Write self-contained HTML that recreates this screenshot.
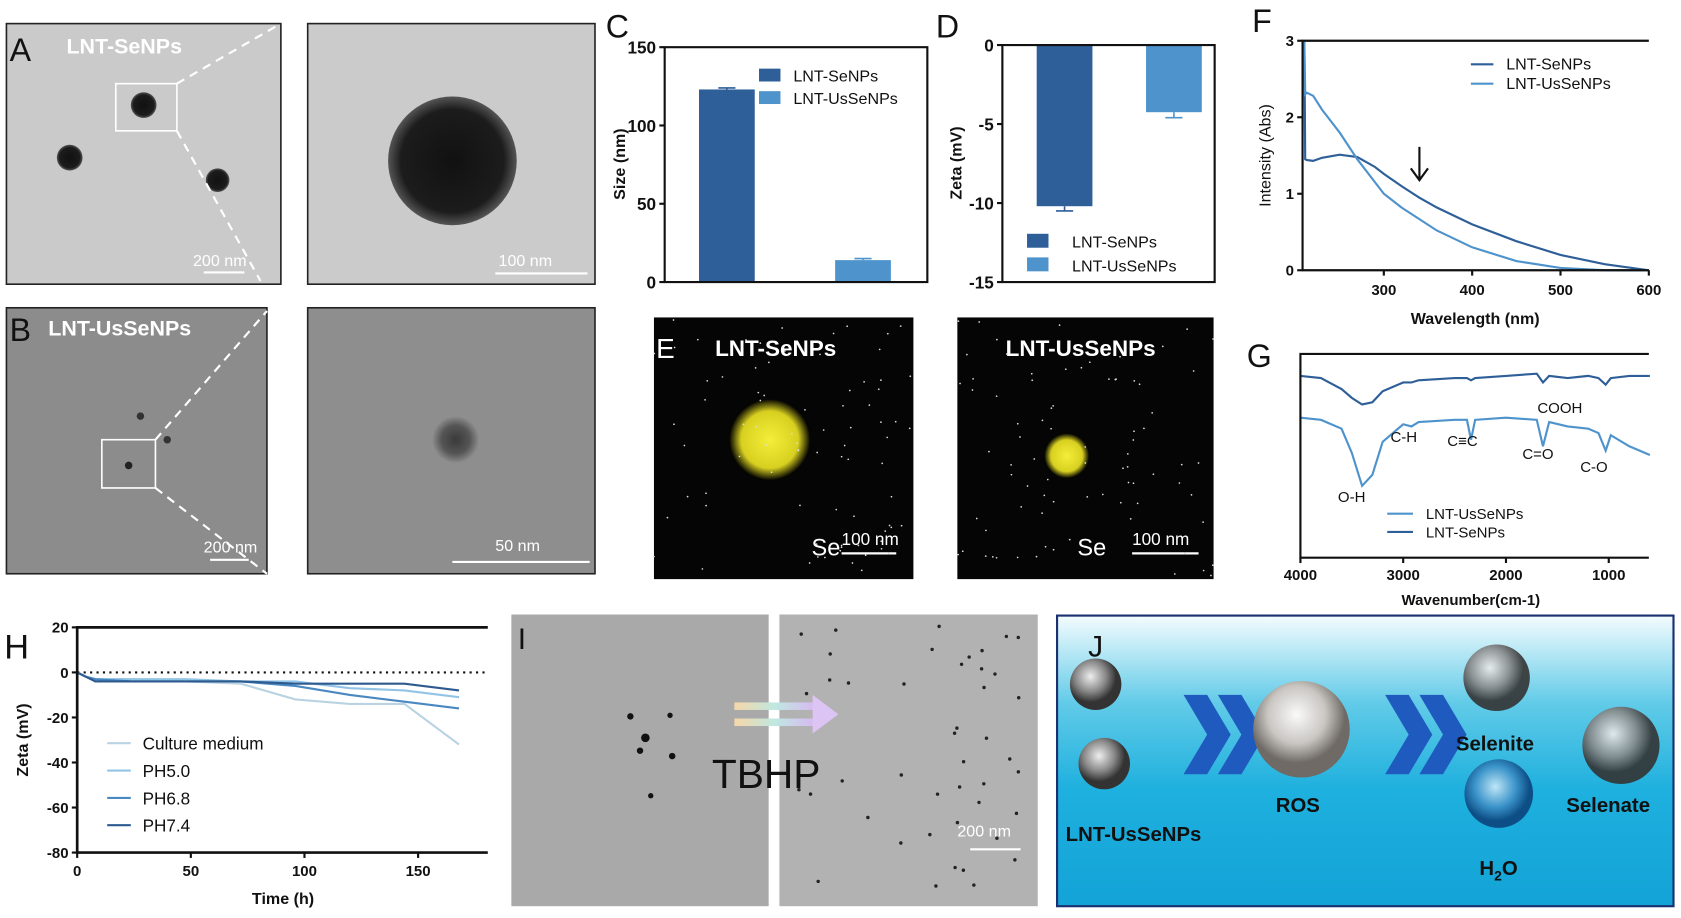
<!DOCTYPE html>
<html><head><meta charset="utf-8"><style>
html,body{margin:0;padding:0;background:#fff;}
svg{display:block;font-family:"Liberation Sans",Arial,sans-serif;}
</style></head><body>
<svg id="fig" width="1681" height="918" viewBox="0 0 1568 856" preserveAspectRatio="none" xmlns="http://www.w3.org/2000/svg">
<defs>
<radialGradient id="dotg"><stop offset="0" stop-color="#111"/><stop offset="0.8" stop-color="#1c1c1c"/><stop offset="1" stop-color="#555"/></radialGradient>
<radialGradient id="blob"><stop offset="0" stop-color="#3a3a3a"/><stop offset="0.6" stop-color="#555"/><stop offset="1" stop-color="#8e8e8e"/></radialGradient>
<radialGradient id="yel"><stop offset="0" stop-color="#f4ef3a"/><stop offset="0.7" stop-color="#d8d020"/><stop offset="1" stop-color="#000"/></radialGradient>
<linearGradient id="jbg" x1="0" y1="0" x2="0" y2="1"><stop offset="0" stop-color="#f4fcfe"/><stop offset="0.3" stop-color="#62cbe8"/><stop offset="0.6" stop-color="#1eb0de"/><stop offset="1" stop-color="#13a3d7"/></linearGradient>
<radialGradient id="silver" cx="0.4" cy="0.35"><stop offset="0" stop-color="#eee"/><stop offset="0.6" stop-color="#888"/><stop offset="1" stop-color="#333"/></radialGradient>
<radialGradient id="glass" cx="0.45" cy="0.35"><stop offset="0" stop-color="#fafafa"/><stop offset="0.6" stop-color="#c9c6c2"/><stop offset="1" stop-color="#6f6a66"/></radialGradient>
<radialGradient id="water" cx="0.45" cy="0.4"><stop offset="0" stop-color="#bfe6f7"/><stop offset="0.6" stop-color="#3a93c9"/><stop offset="1" stop-color="#0d4e86"/></radialGradient>
<linearGradient id="rainbow" x1="0" y1="0" x2="1" y2="0"><stop offset="0" stop-color="#f6d7a8"/><stop offset="0.5" stop-color="#bfe8e0"/><stop offset="1" stop-color="#d7b9f2"/></linearGradient>
</defs>

<g>
<rect x="6" y="22" width="256" height="243" fill="#cacaca" stroke="#222" stroke-width="1.5"/>
<circle cx="65" cy="147" r="12" fill="url(#dotg)"/>
<circle cx="134" cy="98" r="12" fill="url(#dotg)"/>
<circle cx="203" cy="168" r="11" fill="url(#dotg)"/>
<rect x="108" y="78" width="57" height="44" fill="none" stroke="#fff" stroke-width="1.5"/>
<line x1="165" y1="78" x2="262" y2="22" stroke="#fff" stroke-width="2" stroke-dasharray="8,6"/>
<line x1="165" y1="122" x2="243" y2="262" stroke="#fff" stroke-width="2" stroke-dasharray="8,6"/>
<text x="9" y="57" font-size="30" fill="#111">A</text>
<text x="62" y="50" font-size="20" font-weight="bold" fill="#fff">LNT-SeNPs</text>
<text x="180" y="248" font-size="15" fill="#fff">200 nm</text>
<line x1="190" y1="254" x2="228" y2="254" stroke="#fff" stroke-width="2"/>
</g>
<g>
<rect x="287" y="22" width="268" height="243" fill="#cbcbcb" stroke="#222" stroke-width="1.5"/>
<circle cx="422" cy="150" r="60" fill="url(#dotg)"/>
<text x="465" y="248" font-size="15" fill="#fff">100 nm</text>
<line x1="462" y1="255" x2="548" y2="255" stroke="#fff" stroke-width="2"/>
</g>

<g>
<rect x="6" y="287" width="243" height="248" fill="#8c8c8c" stroke="#222" stroke-width="1.5"/>
<circle cx="120" cy="434" r="3.5" fill="#222"/>
<circle cx="131" cy="388" r="3.5" fill="#333"/>
<circle cx="156" cy="410" r="3.5" fill="#333"/>
<rect x="95" y="410" width="50" height="45" fill="none" stroke="#fff" stroke-width="1.5"/>
<line x1="145" y1="410" x2="249" y2="290" stroke="#fff" stroke-width="2" stroke-dasharray="8,6"/>
<line x1="145" y1="455" x2="249" y2="535" stroke="#fff" stroke-width="2" stroke-dasharray="8,6"/>
<text x="9" y="318" font-size="30" fill="#111">B</text>
<text x="45" y="313" font-size="20" font-weight="bold" fill="#fff">LNT-UsSeNPs</text>
<text x="190" y="515" font-size="15" fill="#fff">200 nm</text>
<line x1="196" y1="522" x2="232" y2="522" stroke="#fff" stroke-width="2"/>
</g>
<g>
<rect x="287" y="287" width="268" height="248" fill="#8e8e8e" stroke="#222" stroke-width="1.5"/>
<circle cx="425" cy="410" r="22" fill="url(#blob)"/>
<text x="462" y="514" font-size="15" fill="#fff">50 nm</text>
<line x1="422" y1="524" x2="550" y2="524" stroke="#fff" stroke-width="2"/>
</g>

<g>
<rect x="610" y="296" width="242" height="244" fill="#050505"/>
<rect x="893" y="296" width="239" height="244" fill="#050505"/>
<circle cx="718" cy="410" r="38" fill="url(#yel)"/>
<circle cx="995" cy="425" r="21" fill="url(#yel)"/>
<text x="612" y="334" font-size="26" fill="#fff">E</text>
<text x="667" y="332" font-size="21" font-weight="bold" fill="#fff">LNT-SeNPs</text>
<text x="938" y="332" font-size="21" font-weight="bold" fill="#fff">LNT-UsSeNPs</text>
<text x="757" y="518" font-size="22" fill="#fff">Se</text>
<text x="785" y="508" font-size="16" fill="#fff">100 nm</text>
<line x1="785" y1="516" x2="836" y2="516" stroke="#fff" stroke-width="2"/>
<text x="1005" y="518" font-size="22" fill="#fff">Se</text>
<text x="1056" y="508" font-size="16" fill="#fff">100 nm</text>
<line x1="1056" y1="516" x2="1118" y2="516" stroke="#fff" stroke-width="2"/>
<g id="stars"></g>
</g>

<g>
<rect x="477" y="573" width="240" height="272" fill="#a9a9a9"/>
<rect x="727" y="573" width="241" height="272" fill="#b2b2b2"/>
<g id="idots"></g>
<text x="483" y="605" font-size="28" fill="#111">I</text>
<rect x="685" y="655" width="75" height="7" fill="url(#rainbow)"/>
<rect x="685" y="670" width="75" height="7" fill="url(#rainbow)"/>
<polygon points="758,648 782,666 758,684" fill="#dcc4f4"/>
<text x="664" y="735" font-size="38" fill="#111">TBHP</text>
<text x="893" y="780" font-size="15" fill="#fff">200 nm</text>
<line x1="905" y1="792" x2="952" y2="792" stroke="#fff" stroke-width="2"/>
</g>

<g>
<rect x="986" y="574" width="575" height="271" fill="url(#jbg)" stroke="#1a3070" stroke-width="2"/>
<text x="1015" y="612" font-size="28" fill="#111">J</text>
<circle cx="1022" cy="638" r="24" fill="url(#silver)"/>
<circle cx="1030" cy="712" r="24" fill="url(#silver)"/>
<polygon points="1104,648 1126,648 1148,685 1126,722 1104,722 1126,685" fill="#1f5bbf"/>
<polygon points="1136,648 1158,648 1180,685 1158,722 1136,722 1158,685" fill="#1f5bbf"/>
<circle cx="1214" cy="680" r="45" fill="url(#glass)"/>
<polygon points="1292,648 1314,648 1336,685 1314,722 1292,722 1314,685" fill="#1f5bbf"/>
<polygon points="1324,648 1346,648 1368,685 1346,722 1324,722 1346,685" fill="#1f5bbf"/>
<circle cx="1396" cy="632" r="31" fill="url(#silver)" opacity="0.9"/>
<circle cx="1398" cy="740" r="32" fill="url(#water)"/>
<circle cx="1512" cy="695" r="36" fill="url(#silver)" opacity="0.9"/>
<text x="994" y="784" font-size="19" font-weight="bold" fill="#111">LNT-UsSeNPs</text>
<text x="1190" y="757" font-size="19" font-weight="bold" fill="#111">ROS</text>
<text x="1358" y="700" font-size="19" font-weight="bold" fill="#111">Selenite</text>
<text x="1461" y="757" font-size="19" font-weight="bold" fill="#111">Selenate</text>
<text x="1380" y="816" font-size="19" font-weight="bold" fill="#111">H<tspan font-size="13" dy="5">2</tspan><tspan dy="-5">O</tspan></text>
</g>

<g id="charts"></g>
</svg>
<script>
const cCats = ['LNT-SeNPs', 'LNT-UsSeNPs'];
const cVals = [123, 14];
const cErr = [1, 1];
const cTicks = [0, 50, 100, 150];
const dCats = ['LNT-SeNPs', 'LNT-UsSeNPs'];
const dVals = [-10.2, -4.25];
const dErr = [0.3, 0.35];
const dTicks = [0, -5, -10, -15];
const fWave = [210, 211, 213, 220, 230, 250, 270, 290, 300, 320, 340, 360, 400, 450, 500, 550, 600];
const fSe = [3.0, 1.45, 1.44, 1.43, 1.47, 1.51, 1.48, 1.35, 1.26, 1.1, 0.95, 0.82, 0.6, 0.38, 0.2, 0.08, 0.0];
const fUs = [3.0, 2.3, 2.32, 2.28, 2.1, 1.8, 1.45, 1.15, 1.0, 0.82, 0.67, 0.52, 0.3, 0.12, 0.03, 0.0, 0.0];
const fXTicks = [300, 400, 500, 600];
const fYTicks = [0, 1, 2, 3];
const gWn = [4000, 3800, 3600, 3500, 3400, 3300, 3200, 3000, 2920, 2850, 2500, 2380, 2340, 2300, 2000, 1700, 1640, 1580, 1400, 1200, 1100, 1030, 980, 800, 600];
const gSe = [90, 89, 84, 80, 77, 78, 83, 87, 87, 88, 89, 89, 88, 89, 90, 91, 87, 90, 89, 90, 89, 86, 89, 90, 90];
const gUs = [71, 70, 66, 55, 40, 45, 60, 68, 67, 69, 70, 70, 61, 70, 71, 70, 58, 69, 67, 66, 64, 56, 63, 58, 54];
const gXTicks = [4000, 3000, 2000, 1000];
const hTime = [0, 4, 8, 24, 48, 72, 96, 120, 144, 168];
const hCulture = [0, -2, -3, -3, -4, -5, -12, -14, -14, -32];
const hPH50 = [0, -2, -3, -3, -3, -4, -4, -7, -8, -11];
const hPH68 = [0, -2, -3, -4, -4, -4, -6, -10, -13, -16];
const hPH74 = [0, -2, -4, -4, -4, -4, -5, -5, -5, -8];
const hXTicks = [0, 50, 100, 150];
const hYTicks = [20, 0, -20, -40, -60, -80];

const NS = 'http://www.w3.org/2000/svg';
const root = document.getElementById('charts');
function mk(tag, attrs, parent) {
  const e = document.createElementNS(NS, tag);
  for (const k in attrs) e.setAttribute(k, attrs[k]);
  (parent || root).appendChild(e);
  return e;
}
function txt(s, x, y, size, anchor, weight, parent) {
  const t = mk('text', {x: x, y: y, 'font-size': size, 'text-anchor': anchor || 'start', 'font-weight': weight || 'normal', fill: '#111'}, parent);
  t.textContent = s;
  return t;
}
const DARK = '#2e5f98', LIGHT = '#4f93cc';

// ===== Panel C =====
const cX0 = 620, cX1 = 865, cY0 = 263, cY1 = 44;
const cy = v => cY0 - v / 150 * (cY0 - cY1);
const cx = i => 678 + i * 127;
let el = txt('C', 565, 35, 30);


cVals.forEach((v, i) => {
  const b = mk('rect', {x: cx(i) - 26, y: cy(v), width: 52, height: cY0 - cy(v), fill: i === 0 ? DARK : LIGHT});
  
  
  const e = mk('path', {d: `M${cx(i)} ${cy(v)}V${cy(v + cErr[i])}M${cx(i) - 8} ${cy(v + cErr[i])}H${cx(i) + 8}`, stroke: i === 0 ? DARK : LIGHT, 'stroke-width': 1.5, fill: 'none'});
  
  
});
el = mk('path', {d: `M${cX0} ${cY1}V${cY0}H${cX1}V${cY1}Z`, fill: 'none', stroke: '#111', 'stroke-width': 2});


cTicks.forEach(t => {
  const tk = mk('line', {x1: cX0 - 5, x2: cX0, y1: cy(t), y2: cy(t), stroke: '#111', 'stroke-width': 2});
  
  
  const tl = txt(String(t), cX0 - 8, cy(t) + 6, 16, 'end', 'bold');
  
  
});
el = txt('Size (nm)', 0, 0, 15, 'middle', 'bold');
el.setAttribute('transform', 'translate(583,153) rotate(-90)');


cCats.forEach((c, i) => {
  const s = mk('rect', {x: 708, y: 64 + i * 21, width: 20, height: 12, fill: i === 0 ? DARK : LIGHT});
  
  
  const l = txt(c, 740, 76 + i * 21, 15);
  
  
});

// ===== Panel D =====
const dX0 = 935, dX1 = 1133, dY0 = 42, dY1 = 263;
const dy = v => dY0 + (-v) / 15 * (dY1 - dY0);
const dx = i => 993 + i * 102;
el = txt('D', 873, 35, 30);


dVals.forEach((v, i) => {
  const b = mk('rect', {x: dx(i) - 26, y: dY0, width: 52, height: dy(v) - dY0, fill: i === 0 ? DARK : LIGHT});
  
  
  const e = mk('path', {d: `M${dx(i)} ${dy(v)}V${dy(v - dErr[i])}M${dx(i) - 8} ${dy(v - dErr[i])}H${dx(i) + 8}`, stroke: i === 0 ? DARK : LIGHT, 'stroke-width': 1.5, fill: 'none'});
  
  
});
el = mk('path', {d: `M${dX0} ${dY1}V${dY0}H${dX1}V${dY1}Z`, fill: 'none', stroke: '#111', 'stroke-width': 2});


dTicks.forEach(t => {
  const tk = mk('line', {x1: dX0 - 5, x2: dX0, y1: dy(t), y2: dy(t), stroke: '#111', 'stroke-width': 2});
  
  
  const tl = txt(String(t), dX0 - 8, dy(t) + 6, 16, 'end', 'bold');
  
  
});
el = txt('Zeta (mV)', 0, 0, 15, 'middle', 'bold');
el.setAttribute('transform', 'translate(897,152) rotate(-90)');


dCats.forEach((c, i) => {
  const s = mk('rect', {x: 958, y: 218 + i * 22, width: 20, height: 13, fill: i === 0 ? DARK : LIGHT});
  
  
  const l = txt(c, 1000, 231 + i * 22, 15);
  
  
});

// ===== Panel F =====
const fX0 = 1215, fX1 = 1538, fY0 = 252, fY1 = 38;
const fx = w => fX0 + (w - 208) / (600 - 208) * (fX1 - fX0);
const fy = a => fY0 - a / 3 * (fY0 - fY1);
el = txt('F', 1168, 30, 30);


[[fSe, DARK, 'line-lnt-senps'], [fUs, LIGHT, 'line-lnt-ussenps']].forEach(([arr, col, nm]) => {
  const p = mk('polyline', {points: fWave.map((w, i) => fx(w) + ',' + fy(arr[i])).join(' '), fill: 'none', stroke: col, 'stroke-width': 2});
  
  
});
el = mk('path', {d: `M${fX1} ${fY1}H${fX0}V${fY0}H${fX1}`, fill: 'none', stroke: '#111', 'stroke-width': 2});


fYTicks.forEach(t => {
  const tk = mk('line', {x1: fX0 - 5, x2: fX0, y1: fy(t), y2: fy(t), stroke: '#111', 'stroke-width': 2});
  
  
  const tl = txt(String(t), fX0 - 8, fy(t) + 5, 14, 'end', 'bold');
  
  
});
fXTicks.forEach(t => {
  const tk = mk('line', {x1: fx(t), x2: fx(t), y1: fY0, y2: fY0 + 5, stroke: '#111', 'stroke-width': 2});
  
  
  const tl = txt(String(t), fx(t), fY0 + 23, 14, 'middle', 'bold');
  
  
});
el = txt('Wavelength (nm)', 1376, 302, 15, 'middle', 'bold');


el = txt('Intensity (Abs)', 0, 0, 15, 'middle', 'normal');
el.setAttribute('transform', 'translate(1185,145) rotate(-90)');


el = mk('path', {d: 'M1324 137V167M1316 157L1324 168L1332 157', fill: 'none', stroke: '#111', 'stroke-width': 2});


[['LNT-SeNPs', DARK], ['LNT-UsSeNPs', LIGHT]].forEach(([n, c], i) => {
  const ln = mk('line', {x1: 1372, x2: 1393, y1: 60 + i * 18, y2: 60 + i * 18, stroke: c, 'stroke-width': 2});
  
  
  const l = txt(n, 1405, 65 + i * 18, 15);
  
  
});

// ===== Panel G =====
const gX0 = 1213, gX1 = 1538, gY0 = 520, gY1 = 330;
const gx = w => gX0 + (4000 - w) / (4000 - 610) * (gX1 - gX0);
const gy = v => gY1 + (100 - v) / 100 * (535 - gY1);
el = txt('G', 1163, 342, 30);


[[gSe, DARK, 'line-lnt-senps'], [gUs, LIGHT, 'line-lnt-ussenps']].forEach(([arr, col, nm]) => {
  const p = mk('polyline', {points: gWn.map((w, i) => gx(w) + ',' + gy(arr[i])).join(' '), fill: 'none', stroke: col, 'stroke-width': 2});
  
  
});
el = mk('path', {d: `M${gX1} ${gY1}H${gX0}V${gY0}H${gX1}`, fill: 'none', stroke: '#111', 'stroke-width': 2});


gXTicks.forEach(t => {
  const tk = mk('line', {x1: gx(t), x2: gx(t), y1: gY0, y2: gY0 + 5, stroke: '#111', 'stroke-width': 2});
  
  
  const tl = txt(String(t), gx(t), gY0 + 21, 14, 'middle', 'bold');
  
  
});
el = txt('Wavenumber(cm-1)', 1372, 564, 14, 'middle', 'bold');


[['O-H', 1248, 468], ['C-H', 1297, 412], ['C\u2261C', 1350, 416], ['COOH', 1434, 385], ['C=O', 1420, 428], ['C-O', 1474, 440]].forEach(([s, x, y]) => {
  const a = txt(s, x, y, 14);
  
  
});
[['LNT-UsSeNPs', LIGHT], ['LNT-SeNPs', DARK]].forEach(([n, c], i) => {
  const ln = mk('line', {x1: 1294, x2: 1318, y1: 479 + i * 17, y2: 479 + i * 17, stroke: c, 'stroke-width': 2});
  
  
  const l = txt(n, 1330, 484 + i * 17, 14);
  
  
});

// ===== Panel H =====
const hX0 = 72, hX1 = 455, hTop = 585, hBot = 795;
const hx = t => hX0 + t / 50 * 106;
const hy = v => 627 - v * 2.1;
el = txt('H', 4, 614, 32);


el = mk('line', {x1: hX0, x2: hX1, y1: hy(0), y2: hy(0), stroke: '#111', 'stroke-width': 2, 'stroke-dasharray': '2,4'});


const hSeries = [[hCulture, '#b9d3e3', 'line-culture-medium'], [hPH50, '#92c4e6', 'line-ph5-0'], [hPH68, '#4a88c2', 'line-ph6-8'], [hPH74, '#2d5a8f', 'line-ph7-4']];
hSeries.forEach(([arr, col, nm]) => {
  const p = mk('polyline', {points: hTime.map((t, i) => hx(t) + ',' + hy(arr[i])).join(' '), fill: 'none', stroke: col, 'stroke-width': 2});
  
  
});
el = mk('path', {d: `M${hX1} ${hTop}H${hX0}V${hBot}H${hX1}`, fill: 'none', stroke: '#111', 'stroke-width': 2.5});


hYTicks.forEach(t => {
  const tk = mk('line', {x1: hX0 - 5, x2: hX0, y1: hy(t), y2: hy(t), stroke: '#111', 'stroke-width': 2});
  
  
  const tl = txt(String(t), hX0 - 8, hy(t) + 5, 14, 'end', 'bold');
  
  
});
hXTicks.forEach(t => {
  const tk = mk('line', {x1: hx(t), x2: hx(t), y1: hBot, y2: hBot + 5, stroke: '#111', 'stroke-width': 2});
  
  
  const tl = txt(String(t), hx(t), hBot + 22, 14, 'middle', 'bold');
  
  
});
el = txt('Time (h)', 264, 843, 15, 'middle', 'bold');


el = txt('Zeta (mV)', 0, 0, 15, 'middle', 'bold');
el.setAttribute('transform', 'translate(26,690) rotate(-90)');


['Culture medium', 'PH5.0', 'PH6.8', 'PH7.4'].forEach((n, i) => {
  const ln = mk('line', {x1: 100, x2: 122, y1: 693 + i * 25.5, y2: 693 + i * 25.5, stroke: hSeries[i][1], 'stroke-width': 2});
  
  
  const l = txt(n, 133, 699 + i * 25.5, 16);
  
  
});

const stars = document.getElementById('stars');
let seed = 7;
function rnd() { seed = (seed * 16807) % 2147483647; return seed / 2147483647; }
for (let k = 0; k < 160; k++) {
  const off = k % 2 ? 893 : 610;
  const s = mk('circle', {cx: off + rnd() * 240, cy: 298 + rnd() * 240, r: 0.8, fill: '#ddd'}, stars);
  
  
}
const idots = document.getElementById('idots');
[[588, 668, 3], [602, 688, 4], [597, 700, 3], [627, 705, 3], [607, 742, 2.5], [625, 667, 2.5]].forEach(([x, y, r]) => {
  const d = mk('circle', {cx: x, cy: y, r: r, fill: '#111'}, idots);
  
  
});
for (let k = 0; k < 45; k++) {
  const d = mk('circle', {cx: 735 + rnd() * 225, cy: 580 + rnd() * 255, r: 1.6, fill: '#222'}, idots);
  
  
}
</script>
</body></html>
